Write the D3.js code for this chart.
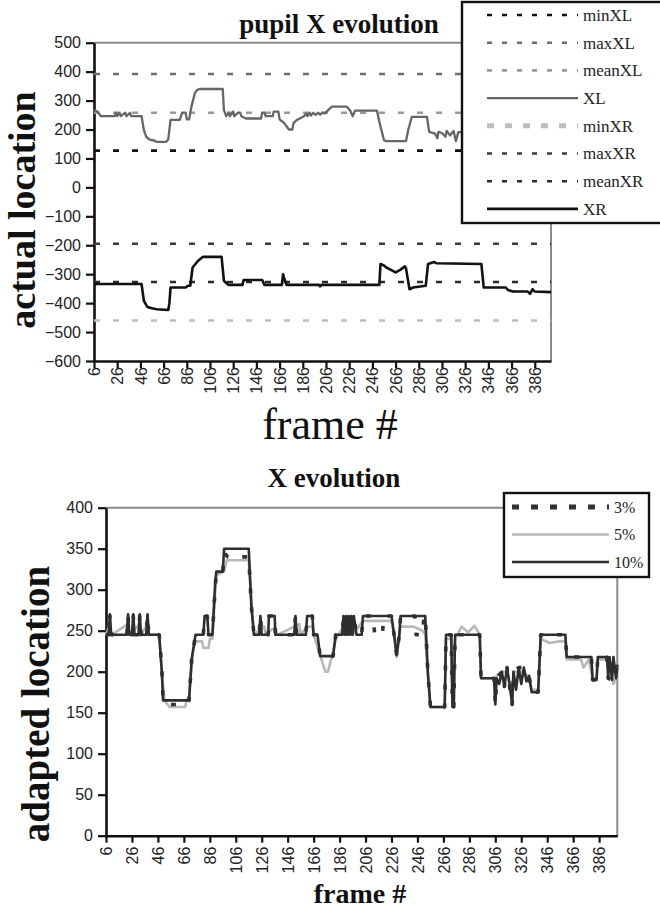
<!DOCTYPE html>
<html>
<head>
<meta charset="utf-8">
<script src="https://cdn.jsdelivr.net/npm/d3@7"></script>
<style>
  body { margin: 0; background: #fff; }
  svg { display: block; }
  .tick text { font-family: "Liberation Sans", Arial, sans-serif; font-size: 16px; fill: #222; }
  .ttl { font-family: "Liberation Serif", "Times New Roman", serif; fill: #111; }
  .leg { font-family: "Liberation Serif", "Times New Roman", serif; fill: #222; }
</style>
</head>
<body>
<script>
// x axis (frame numbers), shared by both charts
var frameTicks = [6, 26, 46, 66, 86, 106, 126, 146, 166, 186, 206, 226, 246, 266, 286, 306, 326, 346, 366, 386];
var frameExtent = [6, 400];

// ---- top chart: pupil X evolution ----
var topTicks = [500, 400, 300, 200, 100, 0, -100, -200, -300, -400, -500, -600];
var refNames = ["minXL", "maxXL", "meanXL", "minXR", "maxXR", "meanXR"];
var refValues = [127, 392, 258, -460, -195, -327];

// [frame, x]
var xlPoints = [[6,267],[9,262],[12,246],[24,246],[25,258],[26,246],[28,258],[29,246],[33,258],[34,246],[37,258],[38,246],[47,246],[49,198],[51,175],[54,165],[58,162],[60,157],[68,157],[70,165],[71,200],[72,233],[80,233],[82,258],[85,258],[86,235],[88,235],[90,279],[93,326],[95,337],[97,340],[117,340],[118,267],[120,246],[122,258],[123,246],[126,262],[127,246],[130,258],[132,258],[133,246],[137,238],[150,238],[151,258],[153,258],[154,246],[160,246],[161,262],[165,262],[166,235],[170,222],[174,200],[177,200],[178,222],[181,233],[187,246],[189,255],[190,246],[192,258],[193,248],[195,258],[197,250],[199,258],[201,252],[203,258],[205,256],[211,279],[224,279],[227,265],[229,246],[231,265],[250,265],[252,227],[256,163],[258,160],[275,160],[277,200],[280,244],[293,244],[295,192],[300,186],[302,170],[303,192],[306,188],[309,175],[310,195],[313,180],[316,195],[318,160],[320,190],[330,195],[340,190],[342,245],[355,245],[357,218],[383,218],[384,190],[388,190],[389,218],[400,215]];
var xrPoints = [[6,-334],[47,-334],[49,-392],[52,-413],[56,-418],[60,-421],[70,-424],[71,-400],[72,-346],[85,-346],[87,-340],[89,-340],[91,-277],[94,-262],[96,-253],[100,-240],[116,-240],[118,-323],[122,-337],[134,-337],[135,-320],[151,-320],[153,-337],[168,-337],[169,-300],[170,-315],[172,-337],[200,-337],[201,-342],[202,-337],[252,-337],[253,-265],[256,-270],[258,-277],[262,-285],[266,-294],[270,-285],[274,-273],[275,-280],[278,-352],[281,-346],[292,-340],[294,-265],[296,-262],[299,-258],[301,-262],[340,-265],[342,-346],[361,-346],[363,-355],[367,-360],[380,-360],[382,-368],[384,-352],[386,-360],[400,-362]];

// ---- bottom chart: X evolution ----
var bottomTicks = [400, 350, 300, 250, 200, 150, 100, 50, 0];
var pctNames = ["3%", "5%", "10%"];
var p10Points = [[6,245],[8,245],[9,270],[10,245],[22,245],[23,270],[24,245],[26,245],[27,270],[28,245],[31,245],[32,270],[33,245],[37,245],[38,270],[39,245],[47,245],[49,200],[50,165],[70,165],[72,215],[75,245],[81,245],[82,268],[84,268],[85,245],[88,245],[90,305],[91,322],[96,322],[97,350],[116,350],[118,280],[120,245],[124,245],[125,268],[126,245],[131,245],[131.5,268],[136,268],[136.5,245],[151,245],[152,268],[153,245],[160,245],[161,268],[165,268],[166,245],[169,245],[171,219],[181,219],[183,245],[188,245],[189,268],[190,245],[191,268],[192,245],[193,268],[194,245],[195,268],[196,245],[197,268],[199,245],[203,245],[204,268],[226,268],[228,245],[230,220],[232,245],[233,268],[252,268],[254,200],[256,157],[267,157],[268,245],[272,245],[273,157],[274,157],[275,245],[294,245],[295,192],[305,192],[306,160],[307,192],[309,185],[311,200],[313,182],[315,205],[317,185],[319,160],[320,200],[322,178],[324,205],[326,185],[328,205],[330,188],[332,195],[334,175],[339,175],[341,245],[360,245],[361,218],[380,218],[381,190],[384,190],[385,218],[392,218],[393,192],[394,218],[396,190],[397,218],[399,192],[400,205]];
var p5Points = [[6,245],[9,258],[10,245],[23,258],[24,245],[32,258],[33,245],[38,258],[39,245],[47,245],[49,200],[51,165],[55,157],[67,157],[68,165],[70,170],[73,225],[75,237],[80,237],[81,229],[85,229],[86,240],[88,240],[91,318],[97,322],[99,336],[116,336],[118,285],[120,245],[128,255],[129,245],[134,252],[137,252],[138,245],[155,258],[156,245],[161,255],[165,255],[166,245],[170,225],[175,200],[177,200],[180,218],[183,240],[190,258],[191,245],[195,258],[196,245],[204,262],[226,262],[228,245],[230,218],[233,255],[243,255],[250,250],[252,245],[254,195],[256,157],[267,157],[268,240],[272,240],[273,157],[275,240],[280,255],[285,248],[290,256],[294,245],[295,192],[305,192],[306,165],[307,195],[311,200],[315,200],[319,165],[320,200],[324,200],[328,200],[332,192],[334,178],[339,178],[341,240],[348,235],[355,237],[360,237],[361,215],[372,215],[374,205],[378,215],[381,192],[384,192],[385,215],[393,215],[395,200],[397,185],[400,195]];
var p3Points = [[6,245],[8,245],[9,268],[10,245],[22,245],[23,268],[24,245],[26,245],[27,268],[28,245],[31,245],[32,268],[33,245],[37,245],[38,268],[39,245],[47,245],[49,205],[50,165],[55,160],[68,160],[70,165],[72,215],[75,245],[81,245],[82,268],[84,268],[85,245],[88,245],[90,300],[91,322],[96,322],[97,345],[100,340],[116,340],[118,280],[120,245],[124,245],[125,268],[126,245],[131,245],[131.5,268],[136,268],[136.5,245],[151,245],[152,268],[153,245],[160,245],[161,268],[165,268],[166,245],[169,245],[171,219],[181,219],[183,245],[188,245],[189,268],[190,245],[193,268],[194,245],[197,268],[199,245],[203,245],[204,268],[212,268],[213,245],[219,245],[220,268],[226,268],[228,245],[230,220],[232,245],[233,268],[244,268],[245,245],[250,245],[251,268],[252,268],[254,200],[256,157],[267,157],[268,245],[272,245],[273,157],[274,157],[275,245],[294,245],[295,192],[305,192],[306,160],[307,192],[311,200],[313,182],[315,205],[319,160],[320,200],[324,205],[328,205],[332,195],[334,175],[339,175],[341,245],[360,245],[361,218],[380,218],[381,190],[384,190],[385,218],[392,218],[393,192],[396,190],[397,218],[400,205]];

// styles for every series / reference line
var styles = {
  minXL:  { color: "#111",    width: 2.6, dash: "6,13", legDash: "5,10", legWidth: 2.6 },
  maxXL:  { color: "#6e6e6e", width: 2.6, dash: "6,13", legDash: "5,10", legWidth: 2.6 },
  meanXL: { color: "#9a9a9a", width: 2.6, dash: "6,13", legDash: "5,10", legWidth: 2.6 },
  XL:     { color: "#666",    width: 2.3, dash: null,   legDash: null,   legWidth: 2.3 },
  minXR:  { color: "#bdbdbd", width: 2.6, dash: "6,13", legDash: "7,11", legWidth: 5 },
  maxXR:  { color: "#3c3c3c", width: 2.6, dash: "6,13", legDash: "5,10", legWidth: 2.6 },
  meanXR: { color: "#2a2a2a", width: 2.6, dash: "6,13", legDash: "5,10", legWidth: 2.6 },
  XR:     { color: "#111",    width: 2.6, dash: null,   legDash: null,   legWidth: 2.6 },
  "3%":   { color: "#333",    width: 3.6, dash: "5,14", legDash: "7,12", legWidth: 5 },
  "5%":   { color: "#b8b8b8", width: 2.6, dash: null,   legDash: null,   legWidth: 2.6 },
  "10%":  { color: "#2e2e2e", width: 2.6, dash: null,   legDash: null,   legWidth: 2.6 }
};

var svg = d3.select("body")
  .append("svg")
  .attr("width", 660)
  .attr("height", 912);

svg.append("rect").attr("width", 660).attr("height", 912).attr("fill", "#fff");

// draws axes + frame of one chart, returns the scales
function drawFrame(box, yTicks, xLabelOffset) {
  var x = d3.scaleLinear().domain(frameExtent).range([box.left, box.right]);
  var y = d3.scaleLinear().domain([yTicks[yTicks.length - 1], yTicks[0]]).range([box.bottom, box.top]);

  // grey top and right border
  svg.append("path")
    .attr("d", `M${box.left},${box.top}H${box.right}V${box.bottom}`)
    .attr("fill", "none")
    .attr("stroke", "#8a8a8a")
    .attr("stroke-width", 2);

  var yAxis = svg.append("g")
    .attr("transform", `translate(${box.left},0)`)
    .call(d3.axisLeft(y).tickValues(yTicks).tickSize(8).tickSizeOuter(0).tickPadding(5));

  var xAxis = svg.append("g")
    .attr("transform", `translate(0,${box.bottom})`)
    .call(d3.axisBottom(x).tickValues(frameTicks).tickSize(7).tickSizeOuter(0));

  xAxis.selectAll(".tick text")
    .attr("transform", "rotate(-90)")
    .attr("text-anchor", "end")
    .attr("x", -xLabelOffset)
    .attr("y", 0)
    .attr("dy", "0.35em");

  [xAxis, yAxis].forEach(function(a) {
    a.select(".domain").attr("stroke", "#111").attr("stroke-width", 2.6);
    a.selectAll(".tick line").attr("stroke", "#111").attr("stroke-width", 2.2);
  });
  return { x: x, y: y };
}

function drawSeries(sc, points, name) {
  var st = styles[name];
  var line = d3.line().x(d => sc.x(d[0])).y(d => sc.y(d[1]));
  svg.append("path")
    .datum(points)
    .attr("d", line)
    .attr("fill", "none")
    .attr("stroke", st.color)
    .attr("stroke-width", st.width)
    .attr("stroke-dasharray", st.dash)
    .attr("stroke-linejoin", "round");
}

function drawLegend(box, names, rowGap, sampleX, fontSize) {
  svg.append("rect")
    .attr("x", box.x).attr("y", box.y)
    .attr("width", box.w).attr("height", box.h)
    .attr("fill", "#fff")
    .attr("stroke", "#111")
    .attr("stroke-width", 2.4);
  names.forEach(function(n, i) {
    var st = styles[n];
    var yy = box.y + box.first + i * rowGap;
    svg.append("line")
      .attr("x1", sampleX[0]).attr("x2", sampleX[1])
      .attr("y1", yy).attr("y2", yy)
      .attr("stroke", st.color)
      .attr("stroke-width", st.legWidth)
      .attr("stroke-dasharray", st.legDash);
    svg.append("text")
      .attr("class", "leg")
      .attr("x", sampleX[1] + 5)
      .attr("y", yy)
      .attr("dy", "0.35em")
      .style("font-size", fontSize + "px")
      .text(n);
  });
}

// ---------- top chart ----------
var topBox = { left: 94, right: 551, top: 42.7, bottom: 361 };
var topSc = drawFrame(topBox, topTicks, 6);

refNames.forEach(function(n, i) {
  var st = styles[n];
  svg.append("line")
    .attr("x1", topSc.x(frameExtent[0])).attr("x2", topSc.x(frameExtent[1]))
    .attr("y1", topSc.y(refValues[i])).attr("y2", topSc.y(refValues[i]))
    .attr("stroke", st.color)
    .attr("stroke-width", st.width)
    .attr("stroke-dasharray", st.dash);
});
drawSeries(topSc, xlPoints, "XL");
drawSeries(topSc, xrPoints, "XR");

drawLegend({ x: 462, y: 2, w: 220, h: 221, first: 13 },
  ["minXL", "maxXL", "meanXL", "XL", "minXR", "maxXR", "meanXR", "XR"],
  27.7, [487, 578], 17);

svg.append("text").attr("class", "ttl")
  .attr("x", 339).attr("y", 33)
  .attr("text-anchor", "middle")
  .style("font-size", "27px").style("font-weight", "bold")
  .text("pupil X evolution");

svg.append("text").attr("class", "ttl")
  .attr("transform", "translate(35,210) rotate(-90)")
  .attr("text-anchor", "middle")
  .style("font-size", "38px").style("font-weight", "bold")
  .text("actual location");

svg.append("text").attr("class", "ttl")
  .attr("x", 330).attr("y", 439)
  .attr("text-anchor", "middle")
  .style("font-size", "44px")
  .text("frame #");

// ---------- bottom chart ----------
var botBox = { left: 106, right: 617.3, top: 507.7, bottom: 835.7 };
var botSc = drawFrame(botBox, bottomTicks, 11);

drawSeries(botSc, p5Points, "5%");
drawSeries(botSc, p3Points, "3%");
drawSeries(botSc, p10Points, "10%");

drawLegend({ x: 504, y: 493, w: 145, h: 84, first: 14 },
  pctNames, 27.5, [512, 609], 16);

svg.append("text").attr("class", "ttl")
  .attr("x", 334).attr("y", 487)
  .attr("text-anchor", "middle")
  .style("font-size", "27px").style("font-weight", "bold")
  .text("X evolution");

svg.append("text").attr("class", "ttl")
  .attr("transform", "translate(49,704) rotate(-90)")
  .attr("text-anchor", "middle")
  .style("font-size", "39px").style("font-weight", "bold")
  .text("adapted location");

svg.append("text").attr("class", "ttl")
  .attr("x", 360).attr("y", 903)
  .attr("text-anchor", "middle")
  .style("font-size", "28px").style("font-weight", "bold")
  .text("frame #");
</script>
</body>
</html>
